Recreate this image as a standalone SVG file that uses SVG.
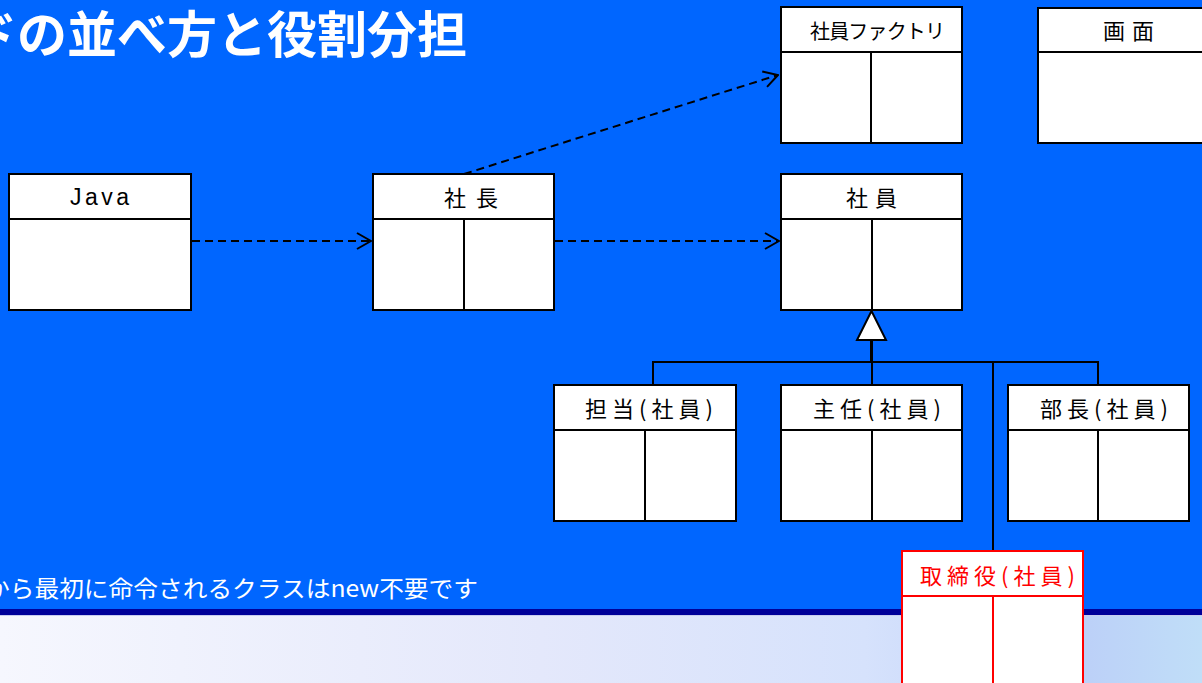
<svg xmlns="http://www.w3.org/2000/svg" width="1202" height="683" viewBox="0 0 1202 683">
<defs>
<linearGradient id="bottomGrad" x1="0" y1="0" x2="1" y2="0">
<stop offset="0" stop-color="#f6f7fe"/>
<stop offset="0.45" stop-color="#e4e8fb"/>
<stop offset="0.72" stop-color="#d6e2fc"/>
<stop offset="0.9" stop-color="#bcd0f8"/>
<stop offset="1" stop-color="#c0def8"/>
</linearGradient>
<marker id="openArrow" viewBox="0 0 16 18" refX="15" refY="9" markerWidth="16" markerHeight="18" markerUnits="userSpaceOnUse" orient="auto">
<path d="M1,1 L15,9 L1,17" fill="none" stroke="#000" stroke-width="2"/>
</marker>
<style>
.box{fill:#fff;stroke:#000;stroke-width:2}
.ln{stroke:#000;stroke-width:2;fill:none}
.rbox{fill:#fff;stroke:#ff0000;stroke-width:2}
.rln{stroke:#ff0000;stroke-width:2;fill:none}
.dash{stroke:#000;stroke-width:2;fill:none;stroke-dasharray:8 5}
.lbl{font-family:"Noto Sans CJK JP","Noto Sans",sans-serif;font-size:22px;fill:#000}
.sub{letter-spacing:5px}
.rlbl{font-family:"Noto Sans CJK JP","Noto Sans",sans-serif;font-size:22px;fill:#ff0000;letter-spacing:5px}
.title{font-family:"Noto Sans CJK JP",sans-serif;font-size:50px;font-weight:bold;fill:#fff}
.note{font-family:"Noto Sans CJK JP","Noto Sans",sans-serif;font-size:23px;fill:#fff}
</style>
</defs>
<rect x="0" y="0" width="1202" height="609" fill="#0066ff"/>
<rect x="0" y="609" width="1202" height="6" fill="#000099"/>
<rect x="0" y="615" width="1202" height="68" fill="url(#bottomGrad)"/>
<line x1="0" y1="615.5" x2="1202" y2="615.5" stroke="#c8ccf0" stroke-width="1"/>
<text class="title" x="-33" y="53">ドの並べ方と役割分担</text>
<text class="note" x="-15" y="597" textLength="493" lengthAdjust="spacingAndGlyphs">から最初に命令されるクラスはnew不要です</text>
<g id="connectors">
<line class="dash" x1="192" y1="241" x2="371" y2="241" marker-end="url(#openArrow)"/>
<line class="dash" x1="555" y1="241" x2="779" y2="241" marker-end="url(#openArrow)"/>
<line class="dash" x1="464" y1="174" x2="778" y2="75" marker-end="url(#openArrow)"/>
<line x1="871.5" y1="340" x2="871.5" y2="362" stroke="#000" stroke-width="3"/>
<polyline class="ln" points="653,385 653,362 1098,362 1098,385"/>
<line class="ln" x1="872" y1="362" x2="872" y2="385"/>
<line class="ln" x1="993" y1="362" x2="993" y2="551"/>
<polygon points="871.5,311 857,340 886,340" fill="#fff" stroke="#000" stroke-width="2"/>
</g>
<g id="java">
<rect class="box" x="9" y="174" width="182" height="136"/>
<line class="ln" x1="9" y1="219" x2="191" y2="219"/>
<text x="70" y="205" textLength="59" lengthAdjust="spacing" style="font-family:'Liberation Sans',Arial,sans-serif;font-size:23px;fill:#000">Java</text>
</g>
<g id="shacho">
<rect class="box" x="373" y="174" width="181" height="136"/>
<line class="ln" x1="373" y1="219" x2="554" y2="219"/>
<line class="ln" x1="464" y1="219" x2="464" y2="310"/>
<text class="lbl" x="444" y="206" textLength="54" lengthAdjust="spacing">社長</text>
</g>
<g id="shain-factory">
<rect class="box" x="781" y="7" width="181" height="136"/>
<line class="ln" x1="781" y1="52" x2="962" y2="52"/>
<line class="ln" x1="871" y1="52" x2="871" y2="143"/>
<text class="lbl" x="810" y="39" textLength="135" lengthAdjust="spacing" style="font-size:20px">社員ファクトリ</text>
</g>
<g id="gamen">
<rect class="box" x="1038" y="8" width="182" height="135"/>
<line class="ln" x1="1038" y1="52" x2="1220" y2="52"/>
<text class="lbl" x="1103" y="39" textLength="51" lengthAdjust="spacing">画面</text>
</g>
<g id="shain">
<rect class="box" x="781" y="174" width="181" height="136"/>
<line class="ln" x1="781" y1="219" x2="962" y2="219"/>
<line class="ln" x1="872" y1="219" x2="872" y2="310"/>
<text class="lbl" x="846" y="206" textLength="51" lengthAdjust="spacing">社員</text>
</g>
<g id="tanto">
<rect class="box" x="554" y="385" width="182" height="136"/>
<line class="ln" x1="554" y1="430" x2="736" y2="430"/>
<line class="ln" x1="645" y1="430" x2="645" y2="521"/>
<text class="lbl sub" x="585" y="417">担当(社員)</text>
</g>
<g id="shunin">
<rect class="box" x="781" y="385" width="181" height="136"/>
<line class="ln" x1="781" y1="430" x2="962" y2="430"/>
<line class="ln" x1="872" y1="430" x2="872" y2="521"/>
<text class="lbl sub" x="813" y="417">主任(社員)</text>
</g>
<g id="bucho">
<rect class="box" x="1008" y="385" width="181" height="136"/>
<line class="ln" x1="1008" y1="430" x2="1189" y2="430"/>
<line class="ln" x1="1098" y1="430" x2="1098" y2="521"/>
<text class="lbl sub" x="1040" y="417">部長(社員)</text>
</g>
<g id="torishimariyaku">
<rect class="rbox" x="902" y="551" width="181" height="150"/>
<line class="rln" x1="902" y1="596" x2="1083" y2="596"/>
<line class="rln" x1="993" y1="596" x2="993" y2="683"/>
<text class="rlbl" x="920" y="584">取締役(社員)</text>
</g>
</svg>
